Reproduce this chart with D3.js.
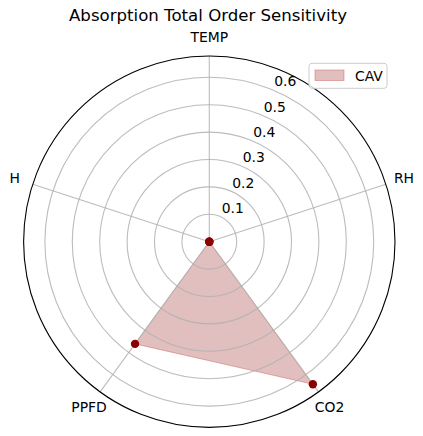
<!DOCTYPE html>
<html><head><meta charset="utf-8">
<script src="https://cdn.jsdelivr.net/npm/d3@7"></script>
<style>body{margin:0;background:#fff}svg{display:block;font-family:"DejaVu Sans",sans-serif}</style>
</head><body>
<svg id="chart" width="423" height="436"></svg>
<script>
const categories = ["TEMP", "RH", "CO2", "PPFD", "H"];
const values = [0.0, 0.0, 0.643, 0.461, 0.0];
const rTicks = [0.1, 0.2, 0.3, 0.4, 0.5, 0.6];
const seriesName = "CAV";
const titleText = "Absorption Total Order Sensitivity";

const svg = d3.select("#chart");
const cx = 209.3, cy = 241.7, R = 185.7, rMax = 0.6777;
const r = d3.scaleLinear().domain([0, rMax]).range([0, R]);
const ang = d3.scaleLinear().domain([0, categories.length]).range([0, 2 * Math.PI]);
const g = svg.append("g").attr("transform", `translate(${cx},${cy})`);
const pt = (a, rad) => [rad * Math.sin(a), -rad * Math.cos(a)];

// area (under grid)
const line = d3.lineRadial().angle((d, i) => ang(i)).radius(d => r(d)).curve(d3.curveLinearClosed);
g.append("path").datum(values).attr("d", line)
  .attr("fill", "rgb(139,0,0)").attr("fill-opacity", 0.25)
  .attr("stroke", "rgb(205,92,92)").attr("stroke-opacity", 0.45).attr("stroke-width", 1);

// grid rings
g.selectAll("circle.ring").data(rTicks).enter().append("circle")
  .attr("r", d => r(d)).attr("fill", "none").attr("stroke", "#b0b0b0").attr("stroke-opacity", 0.85).attr("stroke-width", 1.1);
// spokes
categories.forEach((c, i) => {
  const [x, y] = pt(ang(i), R);
  g.append("line").attr("x1", 0).attr("y1", 0).attr("x2", x).attr("y2", y)
    .attr("stroke", "#b0b0b0").attr("stroke-opacity", 0.85).attr("stroke-width", 1.1);
});

// outer spine
g.append("circle").attr("r", R).attr("fill", "none").attr("stroke", "#000").attr("stroke-width", 1.1);

// points
g.selectAll("circle.pt").data(values).enter().append("circle")
  .attr("cx", (d, i) => pt(ang(i), r(d))[0]).attr("cy", (d, i) => pt(ang(i), r(d))[1])
  .attr("r", 4.2).attr("fill", "#8b0000");

// radial labels
const la = 22.5 * Math.PI / 180;
g.selectAll("text.rl").data(rTicks).enter().append("text")
  .attr("x", d => pt(la, r(d))[0] + 2).attr("y", d => pt(la, r(d))[1] - 3.5)
  .attr("font-size", 13.9).attr("fill", "#000").text(d => d.toFixed(1));

// category labels
categories.forEach((c, i) => {
  const [x, y] = pt(ang(i), R + 19);
  g.append("text").attr("x", x).attr("y", y).attr("text-anchor", "middle")
    .attr("dominant-baseline", "central").attr("font-size", 13.9).text(c);
});

// title
svg.append("text").attr("x", 208).attr("y", 21).attr("text-anchor", "middle")
  .attr("font-size", 16.6).text(titleText);

// legend
const lg = svg.append("g");
lg.append("rect").attr("x", 309).attr("y", 63.3).attr("width", 78).attr("height", 25).attr("rx", 3)
  .attr("fill", "#fff").attr("fill-opacity", 0.8).attr("stroke", "#cccccc").attr("stroke-width", 1);
lg.append("rect").attr("x", 315).attr("y", 70).attr("width", 29).attr("height", 10.5)
  .attr("fill", "rgb(139,0,0)").attr("fill-opacity", 0.25)
  .attr("stroke", "rgb(205,92,92)").attr("stroke-opacity", 0.45).attr("stroke-width", 1);
lg.append("text").attr("x", 355).attr("y", 80.7).attr("font-size", 13.9).text(seriesName);
</script>
</body></html>
